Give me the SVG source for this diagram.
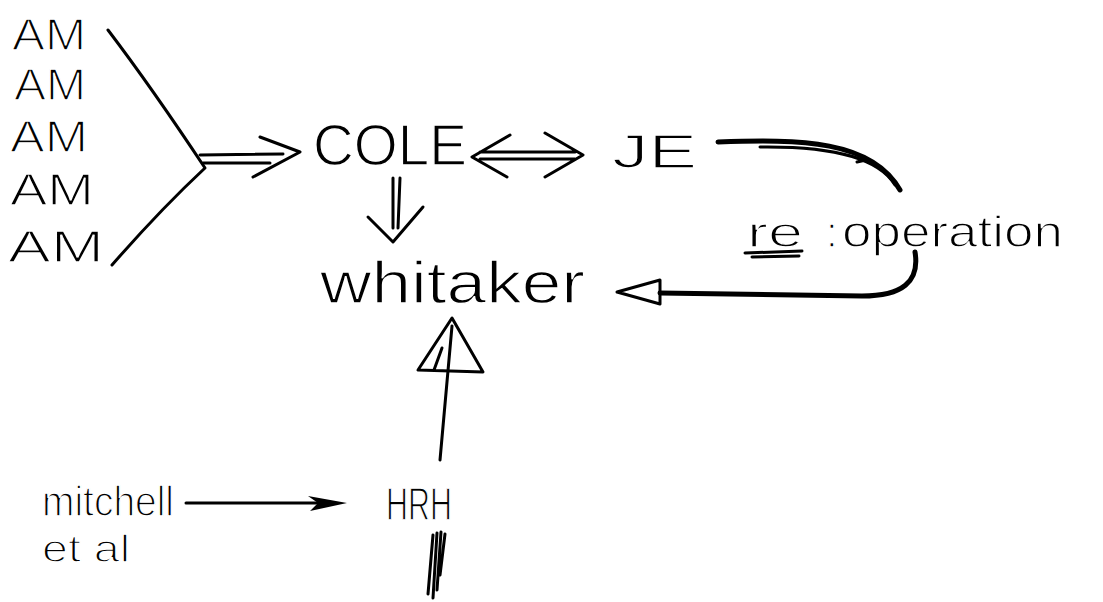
<svg xmlns="http://www.w3.org/2000/svg" width="1103" height="602" viewBox="0 0 1103 602">
  <style>
    /* thin pen-like lettering: a white outline trims the glyph edges */
    .hand { font-family: "Liberation Sans", Arial, sans-serif; fill: #000; stroke: #fff; stroke-width: 1.4; }
    .pen { fill: none; stroke: #000; stroke-width: 3; stroke-linecap: round; stroke-linejoin: round; }
    .heavy { fill: none; stroke: #000; stroke-width: 5; stroke-linecap: round; stroke-linejoin: round; }
  </style>
  <rect width="1103" height="602" fill="#fff"/>

  <!-- sources -->
  <g id="am-group">
    <text class="hand" x="12" y="50" font-size="44" textLength="74" lengthAdjust="spacingAndGlyphs">AM</text>
    <text class="hand" x="14" y="100" font-size="44" textLength="72" lengthAdjust="spacingAndGlyphs">AM</text>
    <text class="hand" x="10" y="152" font-size="44" textLength="78" lengthAdjust="spacingAndGlyphs">AM</text>
    <text class="hand" x="10" y="205" font-size="44" textLength="84" lengthAdjust="spacingAndGlyphs">AM</text>
    <text class="hand" x="8" y="262" font-size="44" textLength="96" lengthAdjust="spacingAndGlyphs">AM</text>
  </g>

  <g id="cole"><text class="hand" x="313" y="165" font-size="58" textLength="154" lengthAdjust="spacingAndGlyphs">COLE</text></g>
  <g id="je"><text class="hand" x="612" y="168" font-size="48" textLength="85" lengthAdjust="spacingAndGlyphs">JE</text></g>
  <g id="whitaker"><text class="hand" x="320" y="303" font-size="60" textLength="265" lengthAdjust="spacingAndGlyphs">whitaker</text></g>
  <g id="operation">
    <text class="hand" x="747" y="247" font-size="42" textLength="56" lengthAdjust="spacingAndGlyphs">re</text>
    <text class="hand" x="826" y="247" font-size="42">:</text>
    <text class="hand" x="842" y="247" font-size="44" textLength="221" lengthAdjust="spacingAndGlyphs">operation</text>
    <path class="pen" d="M745,253 L802,251 M752,257 L799,256"/>
  </g>
  <g id="mitchell">
    <text class="hand" x="42" y="516" font-size="42" textLength="132" lengthAdjust="spacingAndGlyphs">mitchell</text>
    <text class="hand" x="42" y="562" font-size="38" textLength="88" lengthAdjust="spacingAndGlyphs">et al</text>
  </g>
  <g id="hrh"><text class="hand" x="386" y="520" font-size="46" textLength="66" lengthAdjust="spacingAndGlyphs">HRH</text></g>

  <g id="connectors">
    <!-- bracket gathering the AM entries -->
    <path class="pen" d="M108,30 Q152,88 205,168 Q160,210 112,265"/>
    <!-- double-shafted arrow into COLE -->
    <path class="pen" d="M200,155 L283,154 M203,163 L270,163 M260,137 L300,152 L253,177"/>
    <!-- COLE <=> JE -->
    <path class="pen" d="M480,152 L575,152 M480,159 L575,159 M510,135 L472,157 L507,177 M545,133 L583,155 L545,177"/>
    <!-- COLE => whitaker -->
    <path class="pen" d="M393,178 L393,228 M400,178 L398,228 M368,217 L393,242 L423,207"/>
    <!-- JE to re: operation -->
    <path class="heavy" d="M718,142 C800,139 872,140 900,190"/>
    <path class="pen" d="M760,147 C840,146 880,160 895,185 M857,162 L866,160"/>
    <!-- re: operation back to whitaker -->
    <path class="heavy" d="M915,252 C920,282 902,296 862,296 L660,293"/>
    <path class="pen" d="M660,280 L617,292 L660,304 Z"/>
    <!-- HRH up to whitaker -->
    <path class="pen" d="M440,460 L452,326" stroke-width="5"/>
    <path class="pen" d="M452,318 L418,370 L483,372 Z M442,348 L434,370"/>
    <!-- mitchell et al to HRH -->
    <path class="pen" d="M186,503 L318,503"/>
    <path d="M308,496 L347,503 L310,511 L318,503 Z" fill="#000"/>
    <!-- below HRH -->
    <path class="pen" d="M433,535 L428,594 M437,533 L433,598 M441,532 L437,590 M445,534 L440,575"/>
  </g>
</svg>
